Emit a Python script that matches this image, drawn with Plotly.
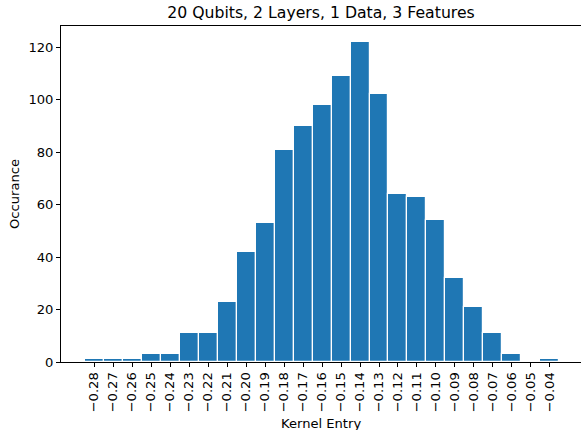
import plotly.graph_objects as go

bin_centers = [-0.28, -0.27, -0.26, -0.25, -0.24, -0.23, -0.22, -0.21, -0.20, -0.19,
               -0.18, -0.17, -0.16, -0.15, -0.14, -0.13, -0.12, -0.11, -0.10, -0.09,
               -0.08, -0.07, -0.06, -0.05, -0.04]
counts = [1, 1, 1, 3, 3, 11, 11, 23, 42, 53,
          81, 90, 98, 109, 122, 102, 64, 63, 54, 32,
          21, 11, 3, 0, 1]
tick_vals = bin_centers
tick_text = ["\u2212%.2f" % abs(v) for v in bin_centers]
y_ticks = [0, 20, 40, 60, 80, 100, 120]

title_text = "20 Qubits, 2 Layers, 1 Data, 3 Features"
x_label = "Kernel Entry"
y_label = "Occurance"

font_family = "DejaVu Sans"
fs = 13.1

fig = go.Figure()
fig.add_trace(go.Bar(
    x=bin_centers, y=counts, width=0.01,
    marker=dict(color="#1f77b4", line=dict(color="white", width=1.2)),
))

fig.update_layout(
    width=581, height=430,
    margin=dict(l=61, r=0, t=26, b=68),
    plot_bgcolor="white", paper_bgcolor="white",
    showlegend=False, bargap=0,
    font=dict(family=font_family, size=fs, color="black"),
    title=dict(text=title_text, x=0.5, xref="paper", y=1 - 12.5 / 430, yref="container",
               xanchor="center", yanchor="middle",
               font=dict(family=font_family, size=15.7, color="black")),
)
fig.update_xaxes(
    range=[-0.2975, -0.0236], tickvals=tick_vals, ticktext=tick_text, tickangle=-90,
    showgrid=False, zeroline=False, showline=True, linecolor="black", linewidth=1,
    mirror=True, ticks="outside", ticklen=4, tickwidth=1, tickcolor="black",
    tickfont=dict(family=font_family, size=fs, color="black"),
)
fig.update_yaxes(
    range=[0, 128.1], tickvals=y_ticks,
    showgrid=False, zeroline=False, showline=True, linecolor="black", linewidth=1,
    ticks="outside", ticklen=4, tickwidth=1, tickcolor="black",
    tickfont=dict(family=font_family, size=fs, color="black"),
)
fig.add_annotation(text=x_label, xref="paper", yref="paper", x=0.5, y=-0.1826,
                   xanchor="center", yanchor="middle", showarrow=False,
                   font=dict(family=font_family, size=fs, color="black"))
fig.add_annotation(text=y_label, xref="paper", yref="paper", x=-0.0904, y=0.5,
                   xanchor="center", yanchor="middle", textangle=-90, showarrow=False,
                   font=dict(family=font_family, size=fs, color="black"))

fig.write_html("out.html", config={"displayModeBar": False},
               post_script="document.body.style.margin='0';document.body.style.overflow='hidden';")
